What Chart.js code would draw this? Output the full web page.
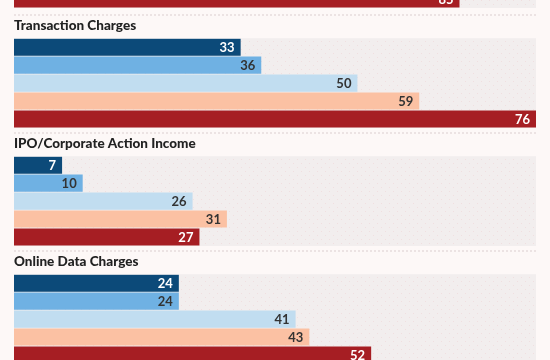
<!DOCTYPE html>
<html>
<head>
<meta charset="utf-8">
<script src="https://cdn.jsdelivr.net/npm/chart.js@4"></script>
<style>
  html, body { margin:0; padding:0; background:#fdf8f7; }
  #wrap { position:relative; width:550px; height:360px; overflow:hidden; background:#fdf8f7; }
  .sec { position:absolute; left:0; width:550px; }
  .sep { position:absolute; left:14px; width:522px; height:0; border-top:2px dotted #ece3e3; }
</style>
</head>
<body>
<div id="wrap">
  <div class="sec" style="top:-10px;height:18px;"><canvas id="c0"></canvas></div>
  <div class="sep" style="top:14px;"></div>
  <div class="sec" style="top:15px;height:113px;"><canvas id="c1"></canvas></div>
  <div class="sep" style="top:132px;"></div>
  <div class="sec" style="top:133px;height:113px;"><canvas id="c2"></canvas></div>
  <div class="sep" style="top:250px;"></div>
  <div class="sec" style="top:251px;height:113px;"><canvas id="c3"></canvas></div>
</div>
<script>
// ---- data ----
const seriesNames = ['Series 1', 'Series 2', 'Series 3', 'Series 4', 'Series 5'];
const sectionTitles = ['Transaction Charges', 'IPO/Corporate Action Income', 'Online Data Charges'];
const topPartialValues = [85];           // last bar of the section cut off at the top
const transactionCharges = [33, 36, 50, 59, 76];
const ipoCorporateActionIncome = [7, 10, 26, 31, 27];
const onlineDataCharges = [24, 24, 41, 43, 52];
const topPartialMax = 99.6;
const sharedMax = 76;

// ---- styles ----
const barColors = ['#0c4a79', '#6fb1e3', '#c1ddf0', '#fbc1a3', '#a61e23'];
const labelColors = ['#ffffff', '#333333', '#333333', '#333333', '#ffffff'];

function makePattern() {
  const p = document.createElement('canvas');
  p.width = 8; p.height = 8;
  const g = p.getContext('2d');
  g.fillStyle = '#f2eeee'; g.fillRect(0, 0, 8, 8);
  g.fillStyle = 'rgba(238,205,207,0.45)';
  g.fillRect(1, 2, 1, 1);
  g.fillRect(5, 6, 1, 1);
  return g.createPattern(p, 'repeat');
}

const bgPlugin = {
  id: 'plotBg',
  beforeDatasetsDraw(chart) {
    const { ctx, chartArea: a } = chart;
    ctx.save();
    ctx.fillStyle = makePattern();
    ctx.fillRect(a.left, a.top, a.right - a.left, a.bottom - a.top);
    ctx.restore();
  }
};

const labelPlugin = {
  id: 'valLabels',
  afterDatasetsDraw(chart) {
    const { ctx } = chart;
    const meta = chart.getDatasetMeta(0);
    const colors = chart.options.plugins.valLabels.colors;
    ctx.save();
    ctx.font = 'bold 13px Lato, "Open Sans", sans-serif';
    ctx.textAlign = 'right';
    ctx.textBaseline = 'middle';
    meta.data.forEach((bar, i) => {
      const v = chart.data.datasets[0].data[i];
      if (v == null) return;
      ctx.fillStyle = colors[i];
      ctx.fillText(String(v), bar.x - 6, bar.y + 0.5);
    });
    ctx.restore();
  }
};

function makeChart(id, labels, values, colors, lcolors, max, title) {
  const titleOpt = title ? {
    display: true, text: title, align: 'start', color: '#222222',
    font: { family: 'Lato, "Open Sans", sans-serif', size: 13.5, weight: 900, lineHeight: 1.2 },
    padding: { top: 3, bottom: 4 }
  } : { display: false };
  return new Chart(document.getElementById(id), {
    type: 'bar',
    data: {
      labels: labels,
      datasets: [{ data: values, backgroundColor: colors, borderWidth: 0,
                   barPercentage: 0.95, categoryPercentage: 1.0 }]
    },
    options: {
      indexAxis: 'y',
      responsive: true,
      maintainAspectRatio: false,
      animation: false,
      layout: { padding: { left: 14, right: 14, top: 0, bottom: 0 } },
      scales: {
        x: { display: false, min: 0, max: max },
        y: { display: false }
      },
      plugins: {
        legend: { display: false },
        tooltip: { enabled: false },
        title: titleOpt,
        valLabels: { colors: lcolors }
      }
    },
    plugins: [bgPlugin, labelPlugin]
  });
}

makeChart('c0', [seriesNames[4]], topPartialValues, [barColors[4]], [labelColors[4]], topPartialMax, null);
makeChart('c1', seriesNames, transactionCharges, barColors, labelColors, sharedMax, sectionTitles[0]);
makeChart('c2', seriesNames, ipoCorporateActionIncome, barColors, labelColors, sharedMax, sectionTitles[1]);
makeChart('c3', seriesNames, onlineDataCharges, barColors, labelColors, sharedMax, sectionTitles[2]);
</script>
</body>
</html>
